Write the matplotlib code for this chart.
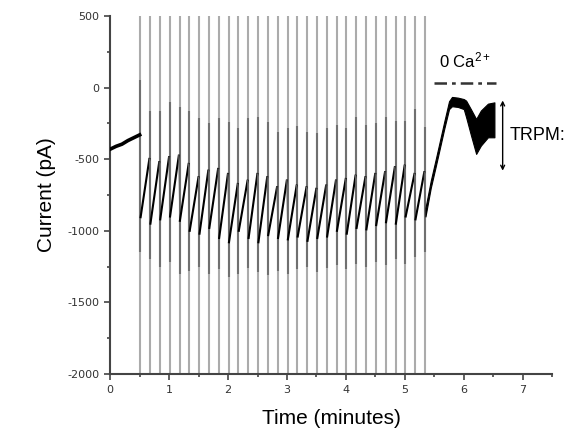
import numpy as np
import matplotlib
matplotlib.use("Agg")
import matplotlib.pyplot as plt
from matplotlib.ticker import MultipleLocator

plt.rcParams['font.family'] = ['Liberation Sans', 'DejaVu Sans']
plt.rcParams['axes.unicode_minus'] = False
plt.rcParams['mathtext.fontset'] = 'custom'
plt.rcParams['mathtext.rm'] = 'Liberation Sans'
plt.rcParams['mathtext.it'] = 'Liberation Sans:italic'

# ---- data ----
# baseline before stimulation (time in minutes, current in pA)
pre_t = [0.0, 0.1, 0.2, 0.3, 0.4, 0.5]
pre_v = [-430, -410, -395, -370, -350, -330]

# ramp artefacts: first spike time, interval, count
spike_t0 = 0.51
spike_dt = 0.1666
n_spikes = 30
spike_top = [50, -160, -160, -100, -133, -165, -210, -250, -210, -240,
             -280, -215, -205, -240, -312, -280, -270, -312, -320, -280,
             -263, -280, -207, -263, -247, -207, -233, -230, -148, -275]
spike_bot = [-1150, -1200, -1250, -1220, -1300, -1280, -1250, -1300, -1270, -1320,
             -1300, -1260, -1290, -1310, -1280, -1300, -1270, -1250, -1290, -1260,
             -1240, -1270, -1230, -1250, -1220, -1240, -1200, -1230, -1180, -1150]

# sawtooth: value just after each ramp (low) and just before the next (high)
cycle_low = [-905, -950, -920, -900, -930, -1000, -1020, -980, -1050, -1080,
             -1000, -1050, -1080, -1030, -1050, -1060, -1040, -1070, -1050, -1040,
             -1000, -1020, -980, -990, -960, -940, -950, -900, -920]
cycle_high = [-498, -521, -486, -475, -533, -626, -580, -568, -603, -673,
              -650, -603, -626, -696, -649, -684, -696, -707, -684, -649,
              -638, -615, -626, -603, -591, -556, -545, -603, -591]

# response to 0 Ca2+ (upper and lower edge of the noisy trace)
end_t = [5.35, 5.44, 5.53, 5.67, 5.75, 5.80, 5.90, 6.00, 6.04, 6.12, 6.21, 6.29, 6.41, 6.52]
end_hi = [-840, -650, -490, -235, -95, -65, -70, -80, -91, -150, -219, -160, -112, -103]
end_lo = [-900, -700, -540, -285, -150, -130, -135, -150, -207, -330, -463, -405, -347, -347]

# annotations
zero_ca_t = [5.49, 6.55]
zero_ca_v = 30
arrow_t = 6.66
arrow_v = [-90, -580]

# ---- figure ----
fig = plt.figure(figsize=(5.8, 4.4), dpi=100)
ax = fig.add_axes([0.19, 0.15, 0.762, 0.8136])

spike_times = [spike_t0 + i * spike_dt for i in range(n_spikes)]

# full-height gray ramp artefacts
for t in spike_times:
    ax.plot([t, t], [-2000, 500], color='#ababab', lw=1.5, solid_capstyle='butt', zorder=1)
for t, top, bot in zip(spike_times, spike_top, spike_bot):
    ax.plot([t, t], [bot, top], color='#707070', lw=1.5, solid_capstyle='butt', zorder=2)

# baseline trace
ax.plot(pre_t, pre_v, color='black', lw=2.6, zorder=3)

# sawtooth trace
for i in range(n_spikes - 1):
    t_a = spike_times[i] + 0.006
    t_b = spike_times[i + 1] - 0.012
    nxt = cycle_low[i + 1] if i + 1 < len(cycle_low) else end_lo[0]
    ax.plot([t_a, t_b], [cycle_low[i], cycle_high[i]], color='black', lw=1.5, zorder=3)
    ax.plot([t_b, spike_times[i + 1] + 0.006], [cycle_high[i], nxt],
            color='#666666', lw=0.8, zorder=3)

# 0 Ca2+ response
ax.fill_between(end_t, end_lo, end_hi, color='black', lw=0.8, zorder=3)

# annotations
ax.plot(zero_ca_t, [zero_ca_v, zero_ca_v], color='#333333', lw=1.8, ls=(0, (5, 2, 1.5, 2)))
ax.text(np.mean(zero_ca_t), 120, r'0 Ca$^{2+}$', ha='center', va='bottom', fontsize=12)
ax.annotate('', xy=(arrow_t, arrow_v[1]), xytext=(arrow_t, arrow_v[0]),
            arrowprops=dict(arrowstyle='<->', color='black', lw=1.0,
                            mutation_scale=7, shrinkA=0, shrinkB=0))
ax.text(6.77, -335, 'TRPM:', ha='left', va='center', fontsize=13, clip_on=False)

# axes styling
ax.set_xlim(0, 7.5)
ax.set_ylim(-2000, 500)
for s in ['top', 'right']:
    ax.spines[s].set_visible(False)
for s in ['left', 'bottom']:
    ax.spines[s].set_color('#444444')
    ax.spines[s].set_linewidth(1.5)
ax.xaxis.set_major_locator(MultipleLocator(1))
ax.xaxis.set_minor_locator(MultipleLocator(0.5))
ax.yaxis.set_major_locator(MultipleLocator(500))
ax.yaxis.set_minor_locator(MultipleLocator(250))
ax.tick_params(which='major', direction='out', length=4, width=1.2, color='#444444',
               labelsize=8, labelcolor='#333333', pad=4)
ax.tick_params(which='minor', direction='out', length=2.5, width=1.2, color='#444444')
for lab in ax.get_xticklabels() + ax.get_yticklabels():
    lab.set_family(['DejaVu Sans'])
ax.set_xlabel('Time (minutes)', fontsize=15, labelpad=10)
ax.set_ylabel('Current (pA)', fontsize=15, labelpad=8)

fig.savefig('out.png', dpi=100)
